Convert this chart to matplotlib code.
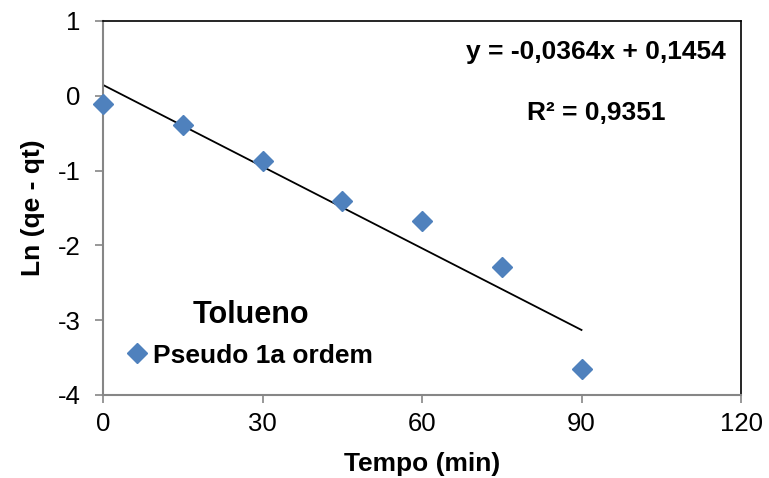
import numpy as np
import matplotlib.pyplot as plt

plt.rcParams['font.family'] = ['Liberation Sans', 'DejaVu Sans']
plt.rcParams['axes.unicode_minus'] = False

# data
tempo = [0, 15, 30, 45, 60, 75, 90]
ln_qe_qt = [-0.11, -0.39, -0.87, -1.41, -1.68, -2.29, -3.65]
slope, intercept = -0.0364, 0.1454
r2 = 0.9351

xticks = [0, 30, 60, 90, 120]
yticks = [-4, -3, -2, -1, 0, 1]

fig = plt.figure(figsize=(7.69, 4.78), dpi=100)
ax = fig.add_axes([103 / 769, 1 - 395 / 478, (741 - 103) / 769, (395 - 21) / 478])

ax.plot(tempo, ln_qe_qt, linestyle='none', marker='D', markersize=10.5,
        color='#4F81BD', label='Pseudo 1a ordem', zorder=3, clip_on=False)

xfit = np.array([tempo[0], tempo[-1]])
ax.plot(xfit, slope * xfit + intercept, color='black', lw=1.3, zorder=2)

ax.set_xlim(0, 120)
ax.set_ylim(-4, 1)
ax.set_xticks(xticks)
ax.set_yticks(yticks)
ax.tick_params(direction='out', length=6, width=1.2, color='#868686',
               labelsize=18.5)
ax.tick_params(axis='x', pad=6)
ax.tick_params(axis='y', pad=10)

for s in ['left', 'bottom']:
    ax.spines[s].set_color('#868686')
    ax.spines[s].set_linewidth(1.5)
for s in ['top', 'right']:
    ax.spines[s].set_color('black')
    ax.spines[s].set_linewidth(1.2)

ax.set_xlabel('Tempo (min)', fontsize=19, fontweight='bold', labelpad=12)
ax.set_ylabel('Ln (qe - qt)', fontsize=19, fontweight='bold', labelpad=9)

leg = ax.legend(loc='center', bbox_to_anchor=(251 / 769, 1 - 334 / 478),
                bbox_transform=fig.transFigure, frameon=False,
                title='Tolueno', handlelength=0.6, handletextpad=0.3,
                prop={'size': 19, 'weight': 'bold'},
                title_fontproperties={'size': 22, 'weight': 'bold'})

fig.text(596 / 769, 1 - 52 / 478, 'y = -0,0364x + 0,1454', ha='center', va='center',
         fontsize=19, fontweight='bold')
fig.text(596 / 769, 1 - 113 / 478, 'R² = 0,9351', ha='center', va='center',
         fontsize=19, fontweight='bold')

fig.savefig('out.png', dpi=100)
